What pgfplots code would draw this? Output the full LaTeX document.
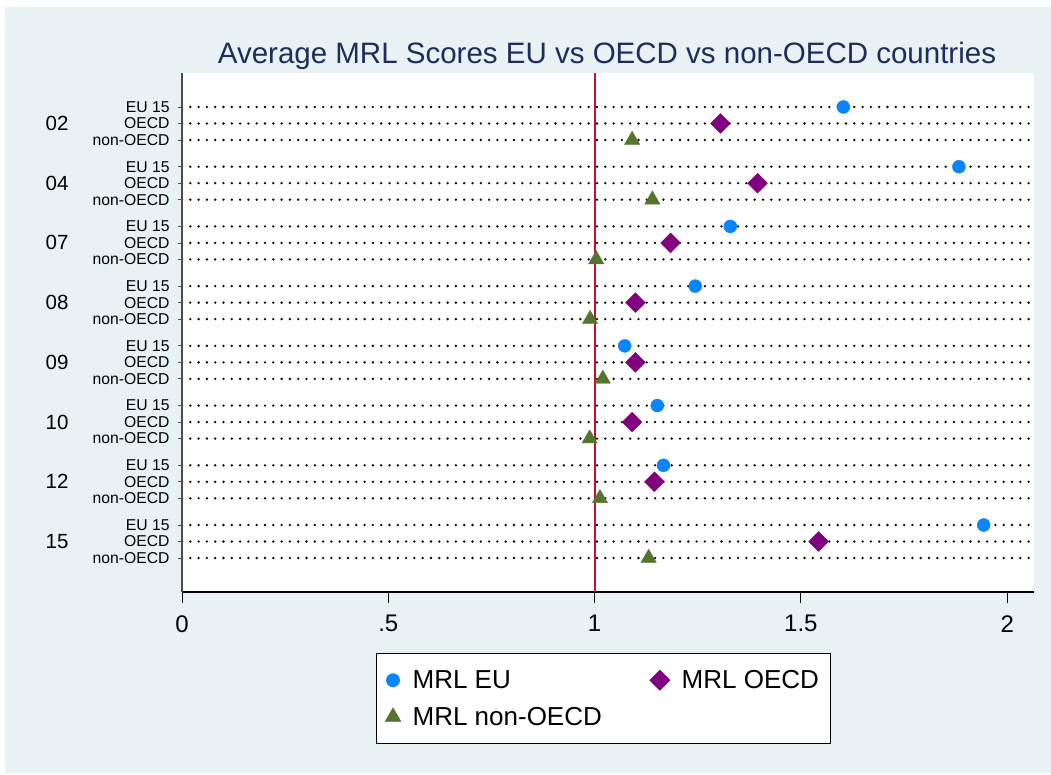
\documentclass[border=0pt]{standalone}
\usepackage{fontspec}
\setmainfont{Liberation Sans}
\usepackage{pgfplots}
\pgfplotsset{compat=1.18}
\definecolor{bgc}{RGB}{232,241,243}
\definecolor{ttl}{RGB}{30,45,90}
\definecolor{ebl}{RGB}{10,132,255}
\definecolor{pur}{RGB}{128,0,128}
\definecolor{grn}{RGB}{85,117,47}
\definecolor{cran}{RGB}{200,16,46}
\begin{document}
\begin{tikzpicture}[x=1pt,y=1pt]
\fill[white] (0,0) rectangle (1051,774);
\fill[bgc] (5,1) rectangle (1051,767);
\begin{axis}[
  at={(182pt,182pt)}, anchor=south west,
  scale only axis, width=852pt, height=519pt,
  xmin=0, xmax=2.065, ymin=-29.4, ymax=2.06,
  axis background/.style={fill=white},
  axis x line*=bottom, axis y line*=left,
  x axis line style={black, line width=1.3pt, -},
  y axis line style={black!70, line width=1.6pt, -},
  tick align=outside,
  xtick={0,0.5,1,1.5,2}, xticklabels={0,.5,1,1.5,2},
  xtick style={black, line width=1pt, /pgfplots/major tick length=11pt},
  xticklabel style={font=\fontsize{24}{28}\selectfont, inner sep=0pt, yshift=-19pt},
  ytick={-27.34,-26.34,-25.34,-23.72,-22.72,-21.72,-20.10,-19.10,-18.10,-16.48,-15.48,-14.48,-12.86,-11.86,-10.86,-9.24,-8.24,-7.24,-5.62,-4.62,-3.62,-2,-1,0},
  yticklabels={non-OECD,OECD,EU 15,non-OECD,OECD,EU 15,non-OECD,OECD,EU 15,non-OECD,OECD,EU 15,non-OECD,OECD,EU 15,non-OECD,OECD,EU 15,non-OECD,OECD,EU 15,non-OECD,OECD,EU 15},
  ytick style={black!70, line width=0.8pt, /pgfplots/major tick length=4pt},
  yticklabel style={font=\fontsize{15.7}{17}\selectfont, inner sep=0pt, anchor=east, xshift=-8pt},
  extra y ticks={-26.34,-22.72,-19.10,-15.48,-11.86,-8.24,-4.62,-1},
  extra y tick labels={15,12,10,09,08,07,04,02},
  extra y tick style={grid=none, ytick style={draw=none}, yticklabel style={font=\fontsize{20.5}{24}\selectfont, xshift=-101pt}},
  ymajorgrids=true,
  major grid style={black, line width=2.6pt, line cap=round, dash pattern=on 0pt off 8.3pt},
  legend columns=2,
  legend cell align=left,
  legend style={at={(0.2277,-0.1175)}, anchor=north west, draw=black, line width=0.8pt, fill=white,
    font=\fontsize{26}{30}\selectfont, row sep=13pt, inner xsep=9pt, inner ysep=15pt,
    /tikz/every odd column/.append style={column sep=10pt},
    /tikz/every even column/.append style={column sep=46pt},
    nodes={inner sep=2pt}},
  legend image code/.code={\draw[#1] plot coordinates {(0pt,0pt)};},
]
\addplot[cran, line width=2pt, forget plot] coordinates {(1,-29.4) (1,2.06)};
\addplot[only marks, mark=*, mark size=6.5pt, color=ebl] coordinates {
(1.603,0) (1.883,-3.62) (1.329,-7.24) (1.244,-10.86) (1.073,-14.48) (1.152,-18.10) (1.167,-21.72) (1.943,-25.34)};
\addlegendentry{MRL EU}
\addplot[only marks, mark=square*, mark size=7pt, mark options={rotate=45}, color=pur] coordinates {
(1.305,-1) (1.395,-4.62) (1.184,-8.24) (1.099,-11.86) (1.099,-15.48) (1.091,-19.10) (1.145,-22.72) (1.543,-26.34)};
\addlegendentry{MRL OECD}
\addplot[only marks, mark=triangle*, mark size=8.8pt, color=grn] coordinates {
(1.091,-2) (1.140,-5.62) (1.004,-9.24) (0.989,-12.86) (1.020,-16.48) (0.988,-20.10) (1.013,-23.72) (1.131,-27.34)};
\addlegendentry{MRL non-OECD}
\end{axis}
\node[text=ttl, font=\fontsize{29.5}{34}\selectfont] at (607,718) {Average MRL Scores EU vs OECD vs non-OECD countries};
\end{tikzpicture}
\end{document}
